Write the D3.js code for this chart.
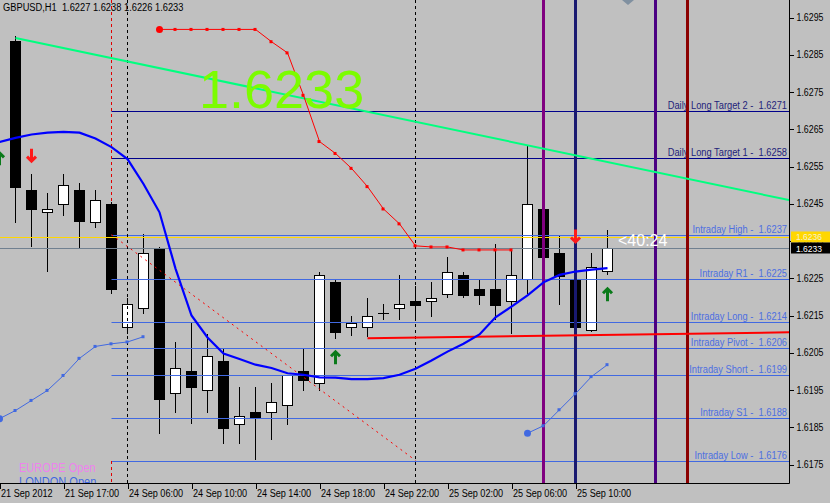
<!DOCTYPE html>
<html>
<head>
<meta charset="utf-8">
<script src="https://cdn.jsdelivr.net/npm/d3@7"></script>
<style>
body { margin: 0; background: #c0c0c0; }
svg { display: block; font-family: Tahoma, "Liberation Sans", Arial, sans-serif; }
text { white-space: pre; }
</style>
</head>
<body>
<div id="chart"></div>
<script>
// ---- values (GBPUSD H1) ----
var titleText = "GBPUSD,H1  1.6227 1.6238 1.6226 1.6233";

// candles, bar 0 = first full candle on the left
var opens  = [1.62888,1.62488,1.62429,1.62448,1.62488,1.62400,1.62448,1.62120,1.62169,1.62330,
              1.61941,1.62000,1.61949,1.62029,1.61860,1.61890,1.61890,1.61911,1.62000,1.61970,
              1.62239,1.62118,1.62118,1.62158,1.62169,1.62190,1.62190,1.62209,1.62260,1.62220,
              1.62220,1.62190,1.62247,1.62437,1.62319,1.62249,1.62110,1.62270];
var highs  = [1.62899,1.62529,1.62478,1.62531,1.62507,1.62488,1.62456,1.62196,1.62370,1.62335,
              1.62080,1.62129,1.62099,1.62059,1.61959,1.61959,1.61970,1.61989,1.62059,1.62268,
              1.62249,1.62150,1.62198,1.62180,1.62260,1.62228,1.62239,1.62308,1.62268,1.62249,
              1.62341,1.62322,1.62604,1.62459,1.62367,1.62308,1.62319,1.62380];
var lows   = [1.62397,1.62335,1.62268,1.62416,1.62330,1.62386,1.62209,1.62099,1.62155,1.61831,
              1.61887,1.61860,1.61887,1.61806,1.61806,1.61761,1.61817,1.61857,1.61946,1.61946,
              1.62086,1.62096,1.62091,1.62137,1.62137,1.62137,1.62147,1.62196,1.62198,1.62177,
              1.62137,1.62099,1.62209,1.62292,1.62177,1.62102,1.62107,1.62260];
var closes = [1.62496,1.62435,1.62437,1.62499,1.62405,1.62459,1.62220,1.62180,1.62319,1.61927,
              1.62010,1.61957,1.62040,1.61847,1.61879,1.61876,1.61919,1.61989,1.61978,1.62260,
              1.62107,1.62129,1.62150,1.62158,1.62180,1.62177,1.62198,1.62268,1.62206,1.62206,
              1.62177,1.62260,1.62448,1.62306,1.62257,1.62118,1.62279,1.62330];

// moving average, bars -1 .. 37
var maStart = -1;
var maValues = [1.62616,1.62627,1.62636,1.62641,1.62643,1.62641,1.62625,1.62602,1.62570,1.62503,
                1.62427,1.62276,1.62150,1.62091,1.62048,1.62033,1.62018,1.62009,1.61995,1.61991,
                1.61984,1.61983,1.61979,1.61979,1.61982,1.61991,1.62007,1.62029,1.62053,1.62074,
                1.62099,1.62145,1.62174,1.62204,1.62239,1.62259,1.62268,1.62273,1.62277];

// red dotted indicator, bars 9 .. 31
var redStart = 9;
var redValues = [1.62918,1.62918,1.62918,1.62918,1.62918,1.62918,1.62918,1.62885,1.62855,1.62741,
                 1.62617,1.62585,1.62545,1.62496,1.62436,1.62396,1.62337,1.62334,1.62334,1.62326,
                 1.62326,1.62326,1.62326];

// thin blue dotted indicators
var blueLeftStart = -1;
var blueLeftValues = [1.61873,1.61895,1.61922,1.61949,1.61989,1.62035,1.62067,1.62074,1.62079,1.62093];
var blueRightStart = 32;
var blueRightValues = [1.61834,1.61854,1.61897,1.61940,1.61986,1.62018];

// level lines (line price and printed price)
var levelNames  = ["Daily Long Target 2","Daily Long Target 1","Intraday High","Intraday R1",
                   "Intraday Long","Intraday Pivot","Intraday Short","Intraday S1","Intraday Low"];
var levelLabels = ["1.6271","1.6258","1.6237","1.6225","1.6214","1.6206","1.6199","1.6188","1.6176"];
var levelValues = [1.62698,1.62573,1.62367,1.62248,1.62133,1.62063,1.61991,1.61875,1.61759];
var levelStartBar = 6;

var askPrice = 1.6236, bidPrice = 1.6233;

// trend lines [bar, price]
var greenTrend = [[0, 1.62895], [37, 1.62562]];
var redTrend   = [[22, 1.62089], [37, 1.62098]];
var redDashed  = [[6, 1.62367], [25, 1.61761]];

// vertical lines
var solidVBars   = [33, 35, 40, 42];
var solidVColors = ["#800080", "#191970", "#4b0082", "#8b0000"];
var dashedVBars  = [7, 25];
var europeBar = 6;

// arrows [bar, tip price]
var upArrows   = [[-1, 1.62588], [20, 1.62054], [37, 1.62223]];
var downArrows = [[1, 1.62563], [35, 1.62346]];

// axes
var tickBars   = [-1, 3, 7, 11, 15, 19, 23, 27, 31, 35];
var tickLabels = ["21 Sep 2012","21 Sep 17:00","24 Sep 06:00","24 Sep 10:00","24 Sep 14:00",
                  "24 Sep 18:00","24 Sep 22:00","25 Sep 02:00","25 Sep 06:00","25 Sep 10:00"];
var priceTicks = d3.range(0, 13).map(function(k) { return +(1.6175 + k * 0.001).toFixed(4); });

var bigPrice = "1.6233";
var timerText = "<40:24";

// ---- layout ----
var W = 830, H = 503, plotW = 789, plotH = 483;

var svg = d3.select("#chart").append("svg")
  .attr("width", W).attr("height", H);

svg.append("rect").attr("width", W).attr("height", H).attr("fill", "#c0c0c0");

svg.append("defs").append("clipPath").attr("id", "plotclip")
  .append("rect").attr("width", plotW).attr("height", plotH);

var x = d3.scaleLinear().domain([0, 37]).range([15.5, 607.5]);
var y = d3.scaleLinear().domain([1.6175, 1.6295]).range([464.5, 17.5]);

function narrow(sel, k) {
  sel.each(function() {
    var w = this.getComputedTextLength();
    d3.select(this).attr("textLength", w * k).attr("lengthAdjust", "spacingAndGlyphs");
  });
}

var plot = svg.append("g").attr("clip-path", "url(#plotclip)");

// candles
var bars = d3.range(opens.length);
var candles = plot.append("g").attr("shape-rendering", "crispEdges");
candles.selectAll(".wick").data(bars).enter().append("line")
  .attr("x1", function(i) { return x(i); }).attr("x2", function(i) { return x(i); })
  .attr("y1", function(i) { return Math.round(y(highs[i])); })
  .attr("y2", function(i) { return Math.round(y(lows[i])); })
  .attr("stroke", "#000");
candles.selectAll(".body").data(bars).enter().append("rect")
  .attr("x", function(i) { return x(i) - 5; })
  .attr("width", 10)
  .attr("y", function(i) { return Math.round(y(Math.max(opens[i], closes[i]))) + 0.5; })
  .attr("height", function(i) {
    return Math.max(Math.round(y(Math.min(opens[i], closes[i]))) - Math.round(y(Math.max(opens[i], closes[i]))), 0.01);
  })
  .attr("fill", function(i) { return closes[i] >= opens[i] ? "#fff" : "#000"; })
  .attr("stroke", "#000");

// ask / bid lines
plot.append("line").attr("x1", 0).attr("x2", plotW)
  .attr("y1", Math.round(y(askPrice)) + 0.5).attr("y2", Math.round(y(askPrice)) + 0.5)
  .attr("stroke", "#ffd700");
plot.append("line").attr("x1", 0).attr("x2", plotW)
  .attr("y1", Math.round(y(bidPrice)) + 0.5).attr("y2", Math.round(y(bidPrice)) + 0.5)
  .attr("stroke", "#708090");

// level lines and their labels
levelValues.forEach(function(v, k) {
  var daily = k < 2;
  var yy = Math.round(y(v)) + 0.5;
  plot.append("line").attr("x1", x(levelStartBar)).attr("x2", plotW)
    .attr("y1", yy).attr("y2", yy)
    .attr("stroke", daily ? "#00008b" : "#4169e1");
  plot.append("text").attr("x", 787).attr("y", yy - 2.5)
    .attr("text-anchor", "end").attr("font-size", 10)
    .attr("fill", daily ? "#23237a" : "#4d6fe0")
    .text(levelNames[k] + " -  " + levelLabels[k])
    .call(narrow, 0.93);
});

// vertical lines
solidVBars.forEach(function(b, k) {
  plot.append("line").attr("x1", x(b)).attr("x2", x(b)).attr("y1", 0).attr("y2", plotH)
    .attr("stroke", solidVColors[k]).attr("stroke-width", 3);
});
dashedVBars.forEach(function(b) {
  plot.append("line").attr("x1", x(b)).attr("x2", x(b)).attr("y1", 0).attr("y2", plotH)
    .attr("stroke", "#000").attr("stroke-dasharray", "3,3").attr("shape-rendering", "crispEdges");
});
plot.append("line").attr("x1", x(europeBar)).attr("x2", x(europeBar))
  .attr("y1", 0).attr("y2", y(highs[europeBar]))
  .attr("stroke", "#e00000").attr("stroke-dasharray", "3,3").attr("shape-rendering", "crispEdges");
plot.append("line").attr("x1", x(europeBar)).attr("x2", x(europeBar))
  .attr("y1", y(levelValues[8])).attr("y2", plotH)
  .attr("stroke", "#e00000").attr("stroke-dasharray", "3,3").attr("shape-rendering", "crispEdges");

// trend lines (rays extended to the right edge)
function ray(p) {
  var slope = (p[1][1] - p[0][1]) / (p[1][0] - p[0][0]);
  var endBar = x.invert(plotW);
  return [[x(p[0][0]), y(p[0][1])], [plotW, y(p[0][1] + slope * (endBar - p[0][0]))]];
}
var segLine = d3.line();
plot.append("path").attr("d", segLine(ray(greenTrend)))
  .attr("stroke", "#00ff7f").attr("stroke-width", 2).attr("fill", "none");
plot.append("path").attr("d", segLine(ray(redTrend)))
  .attr("stroke", "#ff0000").attr("stroke-width", 2).attr("fill", "none");
plot.append("path").attr("d", segLine(redDashed.map(function(p) { return [x(p[0]), y(p[1])]; })))
  .attr("stroke", "#ff0000").attr("stroke-width", 1).attr("stroke-dasharray", "2,4").attr("fill", "none");

// indicator lines
function series(start, vals) {
  return vals.map(function(v, k) { return { bar: start + k, v: v }; });
}
var line = d3.line().x(function(d) { return x(d.bar); }).y(function(d) { return y(d.v); });

plot.append("path").datum(series(maStart, maValues)).attr("d", line)
  .attr("stroke", "#0000ff").attr("stroke-width", 2.2).attr("fill", "none");

function dotted(start, vals, color) {
  var s = series(start, vals);
  plot.append("path").datum(s).attr("d", line)
    .attr("stroke", color).attr("stroke-width", 1).attr("fill", "none");
  plot.selectAll(null).data(s.slice(1)).enter().append("rect")
    .attr("x", function(d) { return x(d.bar) - 2; }).attr("y", function(d) { return y(d.v) - 1.5; })
    .attr("width", 3).attr("height", 3).attr("fill", color);
  plot.append("circle").attr("cx", x(s[0].bar)).attr("cy", y(s[0].v)).attr("r", 3.5).attr("fill", color);
}
dotted(redStart, redValues, "#ff0000");
dotted(blueLeftStart, blueLeftValues, "#4169e1");
dotted(blueRightStart, blueRightValues, "#4169e1");

// arrows
function arrow(b, price, up, color) {
  var cx = x(b), ty = y(price);
  var d = up
    ? "M" + (cx - 4.5) + "," + (ty + 5) + "L" + cx + "," + (ty + 0.5) + "L" + (cx + 4.5) + "," + (ty + 5) +
      "M" + cx + "," + (ty + 1) + "V" + (ty + 13)
    : "M" + (cx - 4.5) + "," + (ty - 5) + "L" + cx + "," + (ty - 0.5) + "L" + (cx + 4.5) + "," + (ty - 5) +
      "M" + cx + "," + (ty - 1) + "V" + (ty - 13);
  plot.append("path").attr("d", d).attr("stroke", color).attr("stroke-width", 3)
    .attr("fill", "none").attr("stroke-linejoin", "miter");
}
upArrows.forEach(function(a) { arrow(a[0], a[1], true, "#0a7a1a"); });
downArrows.forEach(function(a) { arrow(a[0], a[1], false, "#ff1a1a"); });

// small grey marker at the top edge
plot.append("path").attr("d", "M622,0L634,0L628,5Z").attr("fill", "#8090a0");

// texts on the chart
plot.append("text").attr("x", 199).attr("y", 108).attr("font-family", "'Liberation Sans', Arial, sans-serif")
  .attr("font-size", 54).attr("fill", "#7cfc00").text(bigPrice);
plot.append("text").attr("x", 618).attr("y", 245.5).attr("font-family", "'Liberation Sans', Arial, sans-serif")
  .attr("font-size", 16).attr("fill", "#ffffff").text(timerText);
plot.append("text").attr("x", 19).attr("y", 471.5).attr("font-size", 12).attr("fill", "#ee82ee")
  .text("EUROPE Open").call(narrow, 0.92);
plot.append("text").attr("x", 19).attr("y", 486).attr("font-size", 12).attr("fill", "#4169e1")
  .text("LONDON Open").call(narrow, 0.92);

// title
svg.append("text").attr("x", 3).attr("y", 11).attr("font-size", 10).attr("fill", "#000")
  .text(titleText).call(narrow, 0.93);

// frame
svg.append("path").attr("d", "M" + (plotW + 0.5) + ",0V" + (plotH + 0.5) + "H0")
  .attr("stroke", "#000").attr("fill", "none");

// bottom time axis
var xAxis = svg.append("g").attr("transform", "translate(0," + (plotH + 0.5) + ")")
  .call(d3.axisBottom(x).tickValues(tickBars)
    .tickFormat(function(d, i) { return tickLabels[i]; }).tickSize(5));
xAxis.select(".domain").remove();
xAxis.selectAll("line").attr("stroke", "#000").attr("shape-rendering", "crispEdges");
xAxis.selectAll("text").attr("text-anchor", "start").attr("x", 1).attr("y", 13).attr("dy", null)
  .attr("font-family", "Tahoma, 'Liberation Sans', Arial, sans-serif").attr("font-size", 10).attr("fill", "#000")
  .call(narrow, 0.91);

// right price axis
var yAxis = svg.append("g").attr("transform", "translate(" + (plotW + 0.5) + ",0)")
  .call(d3.axisRight(y).tickValues(priceTicks).tickFormat(d3.format(".4f")).tickSize(4).tickPadding(3));
yAxis.select(".domain").remove();
yAxis.selectAll("line").attr("stroke", "#000").attr("shape-rendering", "crispEdges");
yAxis.selectAll("text").attr("font-family", "Tahoma, 'Liberation Sans', Arial, sans-serif")
  .attr("font-size", 10).attr("fill", "#000").call(narrow, 0.88);

// ask / bid price tags
[[askPrice, "#ffd700", "#f4f0d0", -0.5], [bidPrice, "#000000", "#ffffff", 0.5]].forEach(function(t) {
  var yy = Math.round(y(t[0]));
  svg.append("rect").attr("x", plotW + 2).attr("y", yy - 5.5).attr("width", 40).attr("height", 11)
    .attr("fill", t[1]);
  svg.append("text").attr("x", plotW + 7).attr("y", yy + 3 + t[3]).attr("font-size", 8.5)
    .attr("fill", t[2]).text(t[0].toFixed(4)).call(narrow, 1.0);
});
</script>
</body>
</html>
